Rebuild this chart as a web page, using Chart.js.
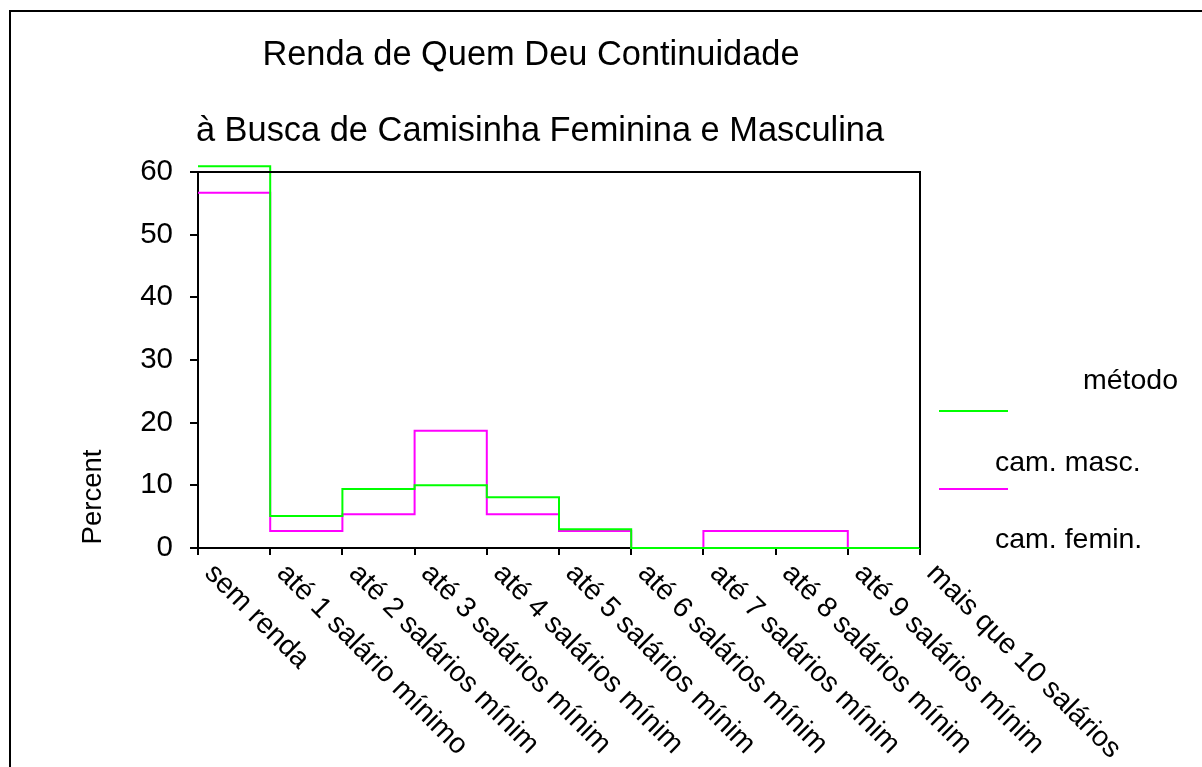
<!DOCTYPE html>
<html>
<head>
<meta charset="utf-8">
<script src="https://cdn.jsdelivr.net/npm/chart.js@4"></script>
<style>
html,body{margin:0;padding:0;background:#fff;}
canvas{display:block;}
</style>
</head>
<body>
<canvas id="c" width="1202" height="767"></canvas>
<script>
const titleLines = ['Renda de Quem Deu Continuidade', 'à Busca de Camisinha Feminina e Masculina'];
const categories = ['sem renda', 'até 1 salário mínimo', 'até 2 salários mínim', 'até 3 salários mínim',
  'até 4 salários mínim', 'até 5 salários mínim', 'até 6 salários mínim', 'até 7 salários mínim',
  'até 8 salários mínim', 'até 9 salários mínim', 'mais que 10 salários'];
const camMasc = [60.9, 5.1, 9.4, 10.0, 8.1, 3.0, 0, 0, 0, 0];
const camFemin = [56.7, 2.7, 5.4, 18.7, 5.4, 2.7, 0, 2.7, 2.7, 0];
const yTicks = [0, 10, 20, 30, 40, 50, 60];
const yTitle = 'Percent';
const legendTitle = 'método';
const seriesNames = ['cam. masc.', 'cam. femin.'];
const seriesColors = ['#00ff00', '#ff00ff'];

const FONT = '"Liberation Sans", Arial, sans-serif';

function toSteps(vals) {
  const pts = vals.map((v, i) => ({x: i, y: v}));
  pts.push({x: vals.length, y: vals[vals.length - 1]});
  return pts;
}

const decor = {
  id: 'decor',
  afterDraw(chart) {
    const ctx = chart.ctx;
    const a = chart.chartArea;
    const xs = chart.scales.x;
    ctx.save();
    // outer frame
    ctx.strokeStyle = '#000';
    ctx.lineWidth = 2;
    ctx.beginPath();
    ctx.moveTo(10, 800); ctx.lineTo(10, 11); ctx.lineTo(1300, 11);
    ctx.stroke();
    // plot box top & right
    ctx.beginPath();
    ctx.moveTo(a.left, a.top); ctx.lineTo(a.right, a.top); ctx.lineTo(a.right, a.bottom);
    ctx.stroke();
    // titles
    ctx.fillStyle = '#000';
    ctx.textAlign = 'center';
    ctx.textBaseline = 'middle';
    ctx.font = '34.4px ' + FONT;
    ctx.fillText(titleLines[0], 531, 56);
    ctx.fillText(titleLines[1], 540, 132);
    // y title
    ctx.font = '27.5px ' + FONT;
    ctx.save();
    ctx.translate(93, 497);
    ctx.rotate(-Math.PI / 2);
    ctx.fillText(yTitle, 0, 0);
    ctx.restore();
    // x labels
    ctx.font = '28.5px ' + FONT;
    ctx.textAlign = 'left';
    ctx.textBaseline = 'middle';
    categories.forEach((c, i) => {
      const px = xs.getPixelForValue(i);
      ctx.save();
      ctx.translate(px + 11, a.bottom + 21);
      ctx.rotate(Math.PI / 4);
      ctx.fillText(c, 0, 0);
      ctx.restore();
    });
    // legend
    ctx.textAlign = 'left';
    ctx.fillText(legendTitle, 1083, 381);
    const lineYs = [411, 489];
    const textYs = [463, 540];
    chart.data.datasets.forEach((ds, i) => {
      ctx.strokeStyle = ds.borderColor;
      ctx.lineWidth = 2;
      ctx.beginPath();
      ctx.moveTo(939, lineYs[i]); ctx.lineTo(1008, lineYs[i]);
      ctx.stroke();
      ctx.fillStyle = '#000';
      ctx.fillText(ds.label, 995, textYs[i]);
    });
    ctx.restore();
  }
};

new Chart(document.getElementById('c'), {
  type: 'line',
  data: {
    datasets: [
      {label: seriesNames[0], data: toSteps(camMasc), borderColor: seriesColors[0], borderWidth: 2,
       stepped: true, pointRadius: 0, fill: false, clip: false},
      {label: seriesNames[1], data: toSteps(camFemin), borderColor: seriesColors[1], borderWidth: 2,
       stepped: true, pointRadius: 0, fill: false, clip: false}
    ]
  },
  options: {
    responsive: false,
    animation: false,
    events: [],
    layout: {padding: {left: 0, right: 282, top: 172, bottom: 0}},
    plugins: {legend: {display: false}, title: {display: false}, tooltip: {enabled: false}},
    scales: {
      x: {
        type: 'linear', min: 0, max: categories.length - 1,
        afterBuildTicks: s => { s.ticks = categories.map((c, i) => ({value: i})); },
        afterFit: s => { s.height = 219; },
        ticks: {display: false},
        grid: {drawOnChartArea: false, drawTicks: true, tickLength: 7, color: '#000', lineWidth: 2},
        border: {display: true, color: '#000', width: 2}
      },
      y: {
        min: 0, max: 60,
        afterBuildTicks: s => { s.ticks = yTicks.map(v => ({value: v})); },
        afterFit: s => { s.width = 198; },
        ticks: {color: '#000', font: {family: FONT, size: 29.5}, padding: 17},
        grid: {drawOnChartArea: false, drawTicks: true, tickLength: 8, color: '#000', lineWidth: 2},
        border: {display: true, color: '#000', width: 2}
      }
    }
  },
  plugins: [decor]
});
</script>
</body>
</html>
